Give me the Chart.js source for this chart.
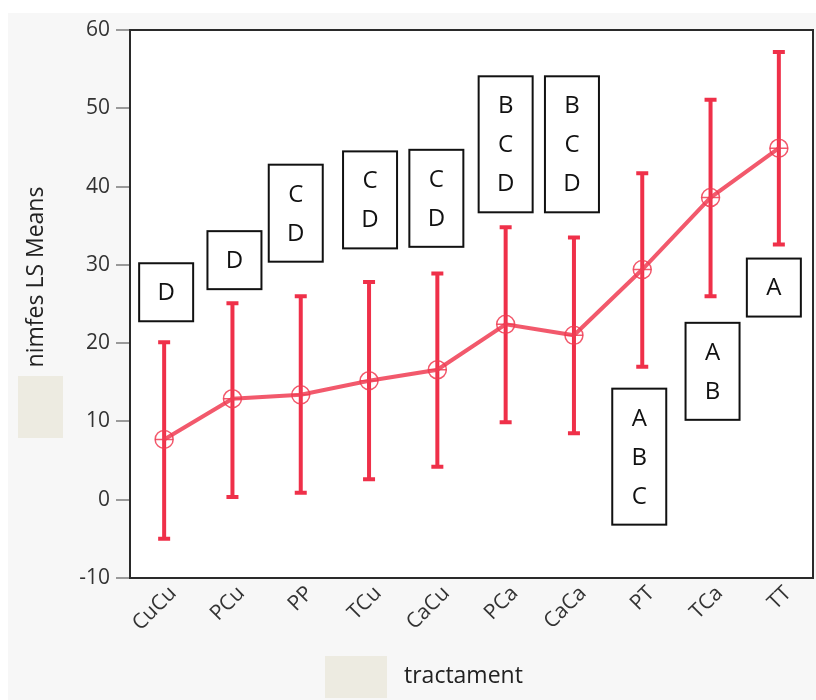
<!DOCTYPE html>
<html>
<head>
<meta charset="utf-8">
<script src="https://cdn.jsdelivr.net/npm/chart.js@4/dist/chart.umd.min.js"></script>
<style>
  html, body { margin: 0; padding: 0; background: #ffffff; }
  #wrap { width: 816px; height: 700px; }
</style>
</head>
<body>
<div id="wrap"><canvas id="grafico" width="816" height="700"></canvas></div>
<script>
// datos
const tratamientos = ['CuCu', 'PCu', 'PP', 'TCu', 'CaCu', 'PCa', 'CaCa', 'PT', 'TCa', 'TT'];
const mediasLS = [7.7, 12.9, 13.4, 15.2, 16.6, 22.4, 21.0, 29.4, 38.6, 44.9];
const limiteSup = [20.1, 25.1, 26.0, 27.8, 28.9, 34.8, 33.5, 41.7, 51.1, 57.2];
const limiteInf = [-5.0, 0.35, 0.9, 2.6, 4.2, 9.9, 8.5, 17.0, 26.0, 32.6];
const letras = [['D'], ['D'], ['C', 'D'], ['C', 'D'], ['C', 'D'], ['B', 'C', 'D'], ['B', 'C', 'D'], ['A', 'B', 'C'], ['A', 'B'], ['A']];
const yTicks = [-10, 0, 10, 20, 30, 40, 50, 60];

const ROJO = '#ef3049';
const FUENTE = '"Open Sans", "Noto Sans", sans-serif';

// posición de las cajas de letras (centro en unidades del eje y, desplazamiento x en px)
const cajaCentroY = [26.5, 30.6, 36.6, 38.3, 38.5, 45.4, 45.4, 5.5, 16.4, 27.1];
const cajaDx = [2, 2, -5, 1, -1, 0, -2, -3, 2, -5];

// Fondo, marco, títulos, etiquetas del eje x y cajas beige
const fondoPlugin = {
    id: 'fondo',
    beforeDraw(chart) {
        const ctx = chart.ctx;
        const a = chart.chartArea;
        ctx.save();
        ctx.fillStyle = '#ffffff';
        ctx.fillRect(0, 0, chart.width, chart.height);
        ctx.fillStyle = '#f7f7f7';
        ctx.fillRect(8, 13, chart.width - 8, chart.height - 13);
        ctx.fillStyle = '#ffffff';
        ctx.fillRect(a.left, a.top, a.right - a.left, a.bottom - a.top);

        // cajas beige
        ctx.fillStyle = '#edebe1';
        ctx.fillRect(18, 376, 45, 62);
        ctx.fillRect(325, 656, 62, 42);

        // títulos de ejes
        ctx.fillStyle = '#222222';
        ctx.font = '23px ' + FUENTE;
        ctx.textBaseline = 'middle';
        ctx.textAlign = 'left';
        ctx.fillText('tractament', 404, 676);
        ctx.translate(36, 277);
        ctx.rotate(-Math.PI / 2);
        ctx.textAlign = 'center';
        ctx.fillText('nimfes LS Means', 0, 0);
        ctx.restore();

        // etiquetas del eje x, giradas 45 grados
        const x = chart.scales.x;
        ctx.save();
        ctx.fillStyle = '#333333';
        ctx.font = '21px ' + FUENTE;
        ctx.textAlign = 'right';
        ctx.textBaseline = 'middle';
        tratamientos.forEach((t, i) => {
            ctx.save();
            ctx.translate(x.getPixelForValue(i) + 9, a.bottom + 12);
            ctx.rotate(-Math.PI / 4);
            ctx.fillText(t, 0, 0);
            ctx.restore();
        });
        ctx.restore();
    },
    afterDraw(chart) {
        const ctx = chart.ctx;
        const a = chart.chartArea;
        ctx.save();
        ctx.strokeStyle = '#2a2a2a';
        ctx.lineWidth = 2;
        ctx.strokeRect(a.left, a.top, a.right - a.left, a.bottom - a.top);
        ctx.restore();
    }
};

// Barras de error y cajas con letras
const erroresPlugin = {
    id: 'errores',
    beforeDatasetsDraw(chart) {
        const ctx = chart.ctx;
        const x = chart.scales.x;
        const y = chart.scales.y;
        ctx.save();
        ctx.strokeStyle = ROJO;
        ctx.lineWidth = 4;
        tratamientos.forEach((t, i) => {
            const px = x.getPixelForValue(i);
            const ySup = y.getPixelForValue(limiteSup[i]);
            const yInf = y.getPixelForValue(limiteInf[i]);
            ctx.beginPath();
            ctx.moveTo(px, ySup);
            ctx.lineTo(px, yInf);
            ctx.moveTo(px - 6, ySup);
            ctx.lineTo(px + 6, ySup);
            ctx.moveTo(px - 6, yInf);
            ctx.lineTo(px + 6, yInf);
            ctx.stroke();
        });
        ctx.restore();
    },
    afterDatasetsDraw(chart) {
        const ctx = chart.ctx;
        const x = chart.scales.x;
        const y = chart.scales.y;
        const alto = 39;
        ctx.save();
        ctx.font = '24px ' + FUENTE;
        ctx.textAlign = 'center';
        ctx.textBaseline = 'middle';
        letras.forEach((grupo, i) => {
            const cx = x.getPixelForValue(i) + cajaDx[i];
            const cy = y.getPixelForValue(cajaCentroY[i]);
            const h = 19 + alto * grupo.length;
            ctx.fillStyle = '#ffffff';
            ctx.fillRect(cx - 27, cy - h / 2, 54, h);
            ctx.strokeStyle = '#111111';
            ctx.lineWidth = 2;
            ctx.strokeRect(cx - 27, cy - h / 2, 54, h);
            ctx.fillStyle = '#111111';
            grupo.forEach((l, j) => {
                ctx.fillText(l, cx, cy + 1 + (j - (grupo.length - 1) / 2) * alto);
            });
        });
        ctx.restore();
    }
};

const ctx = document.getElementById('grafico').getContext('2d');
new Chart(ctx, {
    type: 'line',
    data: {
        labels: tratamientos,
        datasets: [{
            label: 'nimfes LS Means',
            data: mediasLS,
            borderColor: 'rgba(240, 60, 82, 0.85)',
            borderWidth: 4,
            pointStyle: 'circle',
            pointRadius: 9,
            pointBorderWidth: 1.5,
            pointBorderColor: 'rgba(240, 60, 82, 0.85)',
            pointBackgroundColor: 'rgba(255, 255, 255, 0)',
            tension: 0
        }, {
            label: 'cruz',
            data: mediasLS,
            showLine: false,
            pointStyle: 'cross',
            pointRadius: 9,
            pointBorderWidth: 1.5,
            pointBorderColor: 'rgba(240, 60, 82, 0.85)'
        }]
    },
    options: {
        responsive: false,
        animation: false,
        layout: { autoPadding: false, padding: { left: 0, top: 30, right: 3, bottom: 0 } },
        plugins: {
            legend: { display: false },
            tooltip: { enabled: false }
        },
        scales: {
            x: {
                offset: true,
                grid: { display: false },
                border: { display: false },
                ticks: { display: false },
                afterFit(scale) {
                    scale.height = 122;
                    scale.paddingLeft = 0;
                    scale.paddingRight = 0;
                }
            },
            y: {
                min: -10,
                max: 60,
                afterBuildTicks(scale) { scale.ticks = yTicks.map(v => ({ value: v })); },
                grid: {
                    drawOnChartArea: false,
                    drawTicks: true,
                    tickLength: 14,
                    color: '#9a9a9a',
                    lineWidth: 2
                },
                border: { display: false },
                ticks: {
                    color: '#333333',
                    font: { family: FUENTE, size: 21 },
                    padding: 6
                },
                afterFit(scale) {
                    scale.width = 130;
                    scale.paddingTop = 0;
                    scale.paddingBottom = 0;
                }
            }
        }
    },
    plugins: [fondoPlugin, erroresPlugin]
});
</script>
</body>
</html>
